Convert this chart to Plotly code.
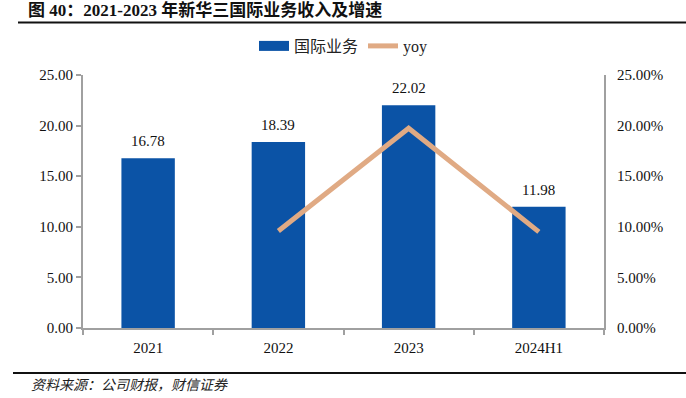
import plotly.graph_objects as go

categories = ["2021", "2022", "2023", "2024H1"]
revenue = [16.78, 18.39, 22.02, 11.98]
yoy_cats = ["2022", "2023", "2024H1"]
yoy = [0.0959, 0.1974, 0.095]
left_ticks = [0, 5, 10, 15, 20, 25]
right_ticks = [0, 0.05, 0.10, 0.15, 0.20, 0.25]

title_text = "<b>图 40：2021-2023 年新华三国际业务收入及增速</b>"
source_text = "<i>资料来源：公司财报，财信证券</i>"

SERIF = "Liberation Serif, Noto Sans CJK SC"
BLUE = "#0B53A6"
TAN = "#E0AA84"
AXIS = "#A0A0A0"

W, H = 686, 398
ML, MR, MT, MB = 83, 82, 75, 70


def px_to_paper_x(px):
    return (px - ML) / (W - ML - MR)


def px_to_paper_y(py):
    return (H - MB - py) / (H - MT - MB)


fig = go.Figure()
fig.add_trace(go.Bar(
    x=categories, y=revenue, name="国际业务",
    marker=dict(color=BLUE, line=dict(width=0)),
    width=0.41, showlegend=False,
))
fig.add_trace(go.Scatter(
    x=yoy_cats, y=yoy, name="yoy", yaxis="y2", mode="lines",
    line=dict(color=TAN, width=5), showlegend=False,
))
# legend-only entries (no visible data)
fig.add_trace(go.Scatter(x=categories[:1], y=[None], name="国际业务", mode="lines",
                         line=dict(color=BLUE, width=10), hoverinfo="skip"))
fig.add_trace(go.Scatter(x=categories[:1], y=[None], name="yoy", mode="lines",
                         line=dict(color=TAN, width=5), hoverinfo="skip"))

# value labels; category axis positions are addressed by index
for i, v in enumerate(revenue):
    fig.add_annotation(x=i, y=v, xref="x", yref="y", text=f"{v:.2f}", showarrow=False,
                       yanchor="bottom", yshift=7,
                       font=dict(family=SERIF, size=15, color="#111"))

fig.update_layout(
    width=W, height=H,
    margin=dict(l=ML, r=MR, t=MT, b=MB),
    paper_bgcolor="white", plot_bgcolor="white",
    font=dict(family=SERIF, size=14, color="#111"),
    showlegend=True,
    legend=dict(orientation="h", x=0.5, xanchor="center", y=px_to_paper_y(46), yanchor="middle",
                font=dict(family=SERIF, size=16, color="#222"),
                itemwidth=30, tracegroupgap=0, bgcolor="rgba(0,0,0,0)"),
    xaxis=dict(type="category", categoryorder="array", categoryarray=categories,
               range=[-0.5, len(categories) - 0.5],
               showline=True, linecolor=AXIS, linewidth=2,
               ticks="outside", tickson="boundaries", ticklen=5, tickcolor=AXIS, tickwidth=1.5,
               ticklabelstandoff=5,
               showgrid=False, tickfont=dict(family=SERIF, size=15, color="#111")),
    yaxis=dict(range=[0, 25], tickvals=left_ticks, tickformat=".2f",
               showline=True, linecolor=AXIS, linewidth=2,
               ticks="outside", ticklen=5, tickcolor=AXIS, tickwidth=1.5,
               showgrid=False, zeroline=False,
               tickfont=dict(family=SERIF, size=15, color="#111")),
    yaxis2=dict(range=[0, 0.25], tickvals=right_ticks, tickformat=".2%",
                overlaying="y", side="right",
                showline=True, linecolor=AXIS, linewidth=2, ticks="",
                ticklabelstandoff=8,
                showgrid=False, zeroline=False,
                tickfont=dict(family=SERIF, size=15, color="#111")),
)

fig.add_shape(type="line", xref="paper", yref="paper",
              x0=px_to_paper_x(18), x1=px_to_paper_x(686),
              y0=px_to_paper_y(22.5), y1=px_to_paper_y(22.5),
              line=dict(color="#111", width=2))
fig.add_shape(type="line", xref="paper", yref="paper",
              x0=px_to_paper_x(13), x1=px_to_paper_x(686),
              y0=px_to_paper_y(373), y1=px_to_paper_y(373),
              line=dict(color="#111", width=2))
fig.add_annotation(text=title_text, x=px_to_paper_x(26), y=px_to_paper_y(10),
                   xref="paper", yref="paper", xanchor="left", yanchor="middle",
                   showarrow=False,
                   font=dict(family="Liberation Serif, Noto Sans CJK SC", size=17, color="#111"))
fig.add_annotation(text=source_text, x=px_to_paper_x(29), y=px_to_paper_y(384),
                   xref="paper", yref="paper", xanchor="left", yanchor="middle",
                   showarrow=False,
                   font=dict(family="Noto Sans CJK SC", size=14, color="#222"))

fig.write_html("out.html", config={"displayModeBar": False},
               post_script="document.body.style.margin='0';document.body.style.overflow='hidden';")
